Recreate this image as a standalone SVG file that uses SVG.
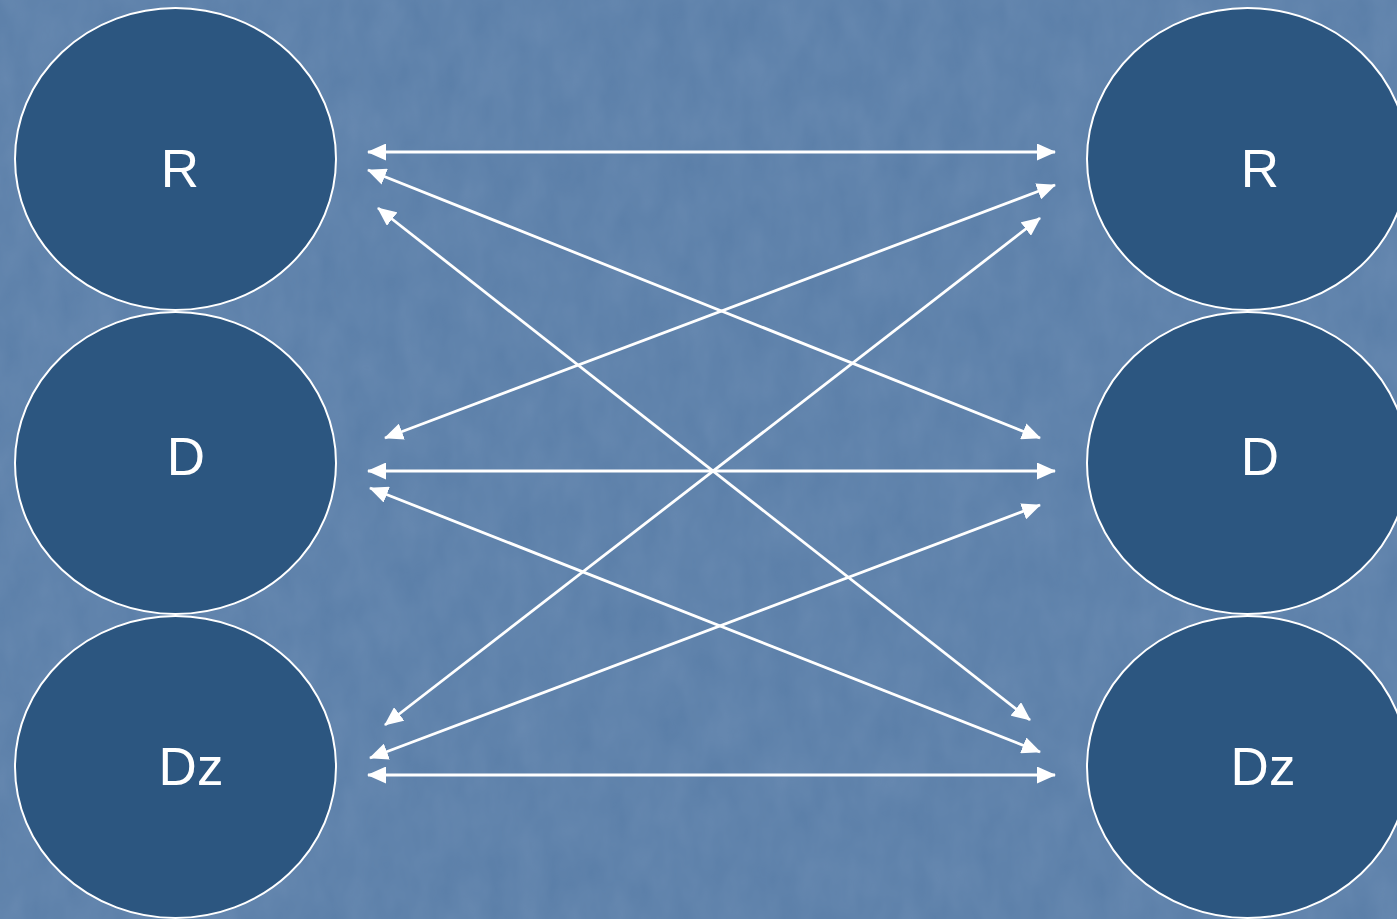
<svg xmlns="http://www.w3.org/2000/svg" width="1397" height="919" viewBox="0 0 1397 919">
<style>
.node ellipse{fill:#2c5680;stroke:#ffffff;stroke-width:2}
.node text{fill:#ffffff;font-family:"Liberation Sans",Arial,sans-serif;font-size:53px}
.conn line{stroke:#ffffff;stroke-width:2.8;marker-start:url(#ah);marker-end:url(#ah)}
</style>
<defs>
<marker id="ah" viewBox="0 0 19 17" refX="18" refY="8.5" markerUnits="userSpaceOnUse" markerWidth="19" markerHeight="17" orient="auto-start-reverse">
<path d="M0,0 L19,8.5 L0,17 Z" fill="#ffffff"/>
</marker>
<filter id="tex" x="0" y="0" width="100%" height="100%">
<feTurbulence type="fractalNoise" baseFrequency="0.035 0.02" numOctaves="3" seed="7" result="n"/>
<feColorMatrix in="n" type="matrix" values="0 0 0 0 0.45  0 0 0 0 0.58  0 0 0 0 0.74  0 0 0 0.3 0"/>
</filter>
</defs>
<rect x="0" y="0" width="1397" height="919" fill="#5a7ea8"/>
<rect x="0" y="0" width="1397" height="919" filter="url(#tex)" opacity="0.5"/>
<g id="nodeLR" class="node"><ellipse cx="175.5" cy="159" rx="160.5" ry="151"/><text x="180" y="187" text-anchor="middle">R</text></g>
<g id="nodeLD" class="node"><ellipse cx="175.5" cy="463" rx="160.5" ry="151"/><text x="186" y="475" text-anchor="middle">D</text></g>
<g id="nodeLDz" class="node"><ellipse cx="175.5" cy="767" rx="160.5" ry="151"/><text x="191" y="785" text-anchor="middle">Dz</text></g>
<g id="nodeRR" class="node"><ellipse cx="1247.5" cy="159" rx="160.5" ry="151"/><text x="1260" y="187" text-anchor="middle">R</text></g>
<g id="nodeRD" class="node"><ellipse cx="1247.5" cy="463" rx="160.5" ry="151"/><text x="1260" y="475" text-anchor="middle">D</text></g>
<g id="nodeRDz" class="node"><ellipse cx="1247.5" cy="767" rx="160.5" ry="151"/><text x="1263" y="785" text-anchor="middle">Dz</text></g>
<g id="connectors" class="conn">
<line x1="368" y1="152" x2="1055" y2="152"/>
<line x1="368" y1="170" x2="1040" y2="438"/>
<line x1="378" y1="208" x2="1030" y2="720"/>
<line x1="385" y1="438" x2="1055" y2="185"/>
<line x1="368" y1="471" x2="1055" y2="471"/>
<line x1="370" y1="488" x2="1040" y2="752"/>
<line x1="385" y1="725" x2="1040" y2="218"/>
<line x1="370" y1="758" x2="1040" y2="505"/>
<line x1="368" y1="775" x2="1055" y2="775"/>
</g>
</svg>
